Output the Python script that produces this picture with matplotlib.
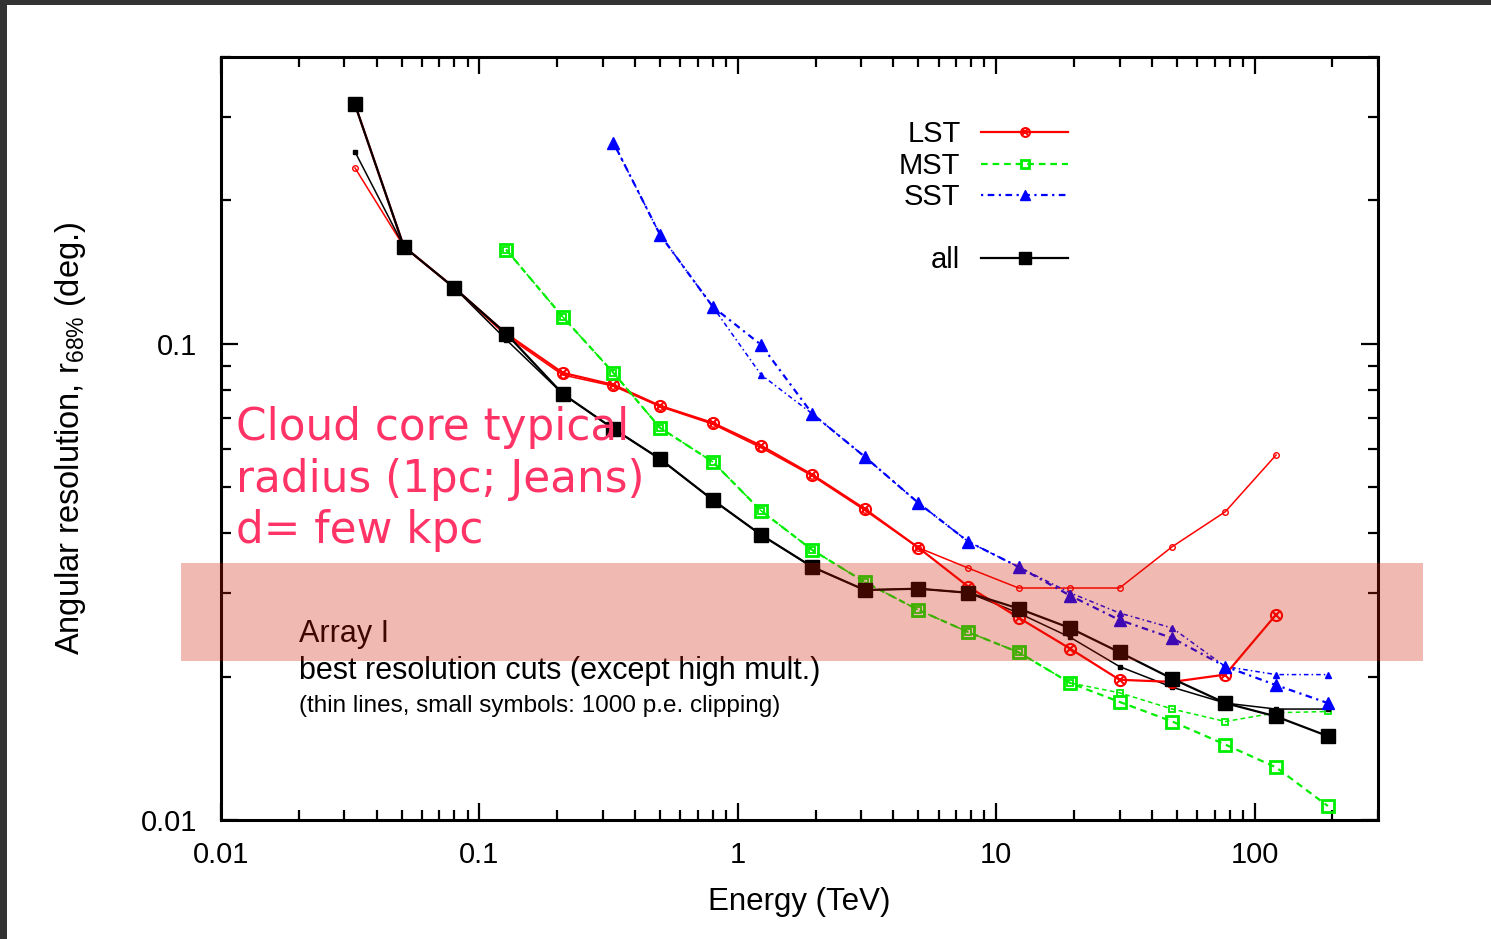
import numpy as np
import matplotlib
matplotlib.use('Agg')
import matplotlib.pyplot as plt
from matplotlib.patches import Rectangle
from matplotlib.lines import Line2D
from matplotlib.ticker import NullFormatter

plt.rcParams['font.family'] = ['Liberation Sans', 'DejaVu Sans']

nan = np.nan

# energy bins (TeV)
energy = [0.033, 0.051, 0.080, 0.127, 0.21, 0.33, 0.50, 0.80, 1.23, 1.94,
          3.1, 5.0, 7.8, 12.2, 19.3, 30, 48, 77, 121, 192]

# r68 (deg) -- best resolution cuts
lst = [0.318, 0.160, 0.131, 0.105, 0.0869, 0.0820, 0.0741, 0.0682, 0.0611, 0.0531,
       0.0450, 0.0373, 0.0309, 0.0266, 0.0229, 0.0197, 0.0195, 0.0202, 0.0270, nan]
mst = [nan, nan, nan, 0.1576, 0.1139, 0.0869, 0.0666, 0.0565, 0.0446, 0.0369,
       0.0316, 0.0276, 0.0248, 0.0225, 0.0194, 0.0177, 0.0161, 0.0144, 0.0129, 0.0107]
sst = [nan, nan, nan, nan, nan, 0.2644, 0.1694, 0.1196, 0.0995, 0.0713,
       0.0579, 0.0463, 0.0384, 0.0340, 0.0296, 0.0263, 0.0241, 0.0210, 0.0192, 0.0176]
all_tel = [0.318, 0.160, 0.131, 0.105, 0.0785, 0.0663, 0.0573, 0.0470, 0.0397, 0.0340,
           0.0304, 0.0306, 0.0300, 0.0278, 0.0253, 0.0225, 0.0198, 0.0176, 0.0165, 0.0150]

# same, with 1000 p.e. clipping
lst_clip = [0.234, 0.160, 0.131, 0.104, 0.0860, 0.0815, 0.0738, 0.0678, 0.0605, 0.0528,
            0.0447, 0.0373, 0.0338, 0.0307, 0.0307, 0.0307, 0.0375, 0.0444, 0.0584, nan]
mst_clip = [nan, nan, nan, 0.1576, 0.1139, 0.0869, 0.0666, 0.0565, 0.0446, 0.0369,
            0.0316, 0.0276, 0.0248, 0.0225, 0.0194, 0.0185, 0.0171, 0.0161, 0.0168, 0.0169]
sst_clip = [nan, nan, nan, nan, nan, 0.2644, 0.1694, 0.1196, 0.0861, 0.0713,
            0.0579, 0.0463, 0.0384, 0.0340, 0.0300, 0.0272, 0.0253, 0.0210, 0.0202, 0.0202]
all_clip = [0.253, 0.160, 0.131, 0.102, 0.0785, 0.0663, 0.0573, 0.0470, 0.0397, 0.0340,
            0.0304, 0.0306, 0.0300, 0.0272, 0.0242, 0.0210, 0.0190, 0.0176, 0.0171, 0.0171]

# band of typical cloud-core size
band_lo, band_hi = 0.0216, 0.0347

fig = plt.figure(figsize=(14.91, 9.39), dpi=100)
ax = fig.add_axes([0.1482, 0.1267, 0.7760, 0.8126])

red, green, blue = '#ff0000', '#00ee00', '#0000ff'
mst_dash = (3, 2.2)
sst_dash = (1, 2, 3, 2)

# thin lines, small symbols
ax.plot(energy, lst_clip, '-', color=red, lw=1.1, marker='o', ms=4, mfc='none', mew=1.0)
ax.plot(energy, mst_clip, color=green, lw=1.1, dashes=mst_dash, marker='s', ms=4.5, mfc='none', mew=1.3)
ax.plot(energy, sst_clip, color=blue, lw=1.1, dashes=sst_dash, marker='^', ms=5)
ax.plot(energy, all_clip, '-', color='black', lw=1.1, marker='s', ms=3.5)

# thick lines, big symbols
l_lst, = ax.plot(energy, lst, '-', color=red, lw=1.6, marker='o', ms=8, mfc='none', mew=1.5)
x_lst, = ax.plot(energy, lst, ls='none', color=red, marker='x', ms=6, mew=1.5)
l_mst, = ax.plot(energy, mst, color=green, lw=1.6, dashes=mst_dash, marker='s', ms=8, mfc='none', mew=2)
l_sst, = ax.plot(energy, sst, color=blue, lw=1.6, dashes=sst_dash, marker='^', ms=9)
l_all, = ax.plot(energy, all_tel, '-', color='black', lw=1.6, marker='s', ms=10.5)

ax.set_xscale('log')
ax.set_yscale('log')
ax.set_xlim(0.01, 300)
ax.set_ylim(0.01, 0.4)
ax.set_xticks([0.01, 0.1, 1, 10, 100], ['0.01', '0.1', '1', '10', '100'])
ax.set_yticks([0.01, 0.1], ['0.01', '0.1'])
ax.xaxis.set_minor_formatter(NullFormatter())
ax.yaxis.set_minor_formatter(NullFormatter())
ax.tick_params(which='both', direction='in', top=True, right=True, labelsize=21, width=1.6)
ax.tick_params(which='major', length=12)
ax.tick_params(which='minor', length=7)
ax.tick_params(axis='x', pad=15)
ax.tick_params(axis='y', pad=17)
for s in ax.spines.values():
    s.set_linewidth(2.2)

ax.set_xlabel('Energy (TeV)', fontsize=22.5)
ax.set_ylabel('Angular resolution, r$_{\\mathregular{68\\%}}$ (deg.)', fontsize=23.5)
ax.xaxis.set_label_coords(0.5, -0.0878)
ax.yaxis.set_label_coords(-0.115, 0.5)

blank = Line2D([], [], ls='none')
ax.legend([(l_lst, x_lst), l_mst, l_sst, blank, l_all], ['LST', 'MST', 'SST', ' ', 'all'],
          loc='upper right', bbox_to_anchor=(0.745, 0.936), frameon=False, markerfirst=False,
          fontsize=21, handlelength=3.0, handletextpad=0.7, labelspacing=0.12,
          borderpad=0, numpoints=1, markerscale=0.8)

ax.text(0.0674, 0.2333, 'Array I', transform=ax.transAxes, fontsize=22, va='baseline')
ax.text(0.0674, 0.1848, 'best resolution cuts (except high mult.)', transform=ax.transAxes,
        fontsize=22, va='baseline')
ax.text(0.0674, 0.1415, '(thin lines, small symbols: 1000 p.e. clipping)', transform=ax.transAxes,
        fontsize=17.5, va='baseline')

ax.text(0.013, 0.5426, 'Cloud core typical\nradius (1pc; Jeans)\nd= few kpc', transform=ax.transAxes,
        family='DejaVu Sans', fontsize=31.5, color='#ff3366', va='top', ha='left',
        linespacing=1.25, zorder=6)

ax.add_patch(Rectangle((-0.0346, band_lo), 1.0735, band_hi - band_lo,
                       transform=ax.get_yaxis_transform(), facecolor='#d01c02', alpha=0.3,
                       lw=0, clip_on=False, zorder=10))

# dark frame edges
fig.add_artist(Rectangle((0, 0), 7 / 1491, 1, transform=fig.transFigure, color='#333333', lw=0))
fig.add_artist(Rectangle((0, 1 - 5 / 939), 1, 5 / 939, transform=fig.transFigure, color='#333333', lw=0))

fig.savefig('out.png', dpi=100)
